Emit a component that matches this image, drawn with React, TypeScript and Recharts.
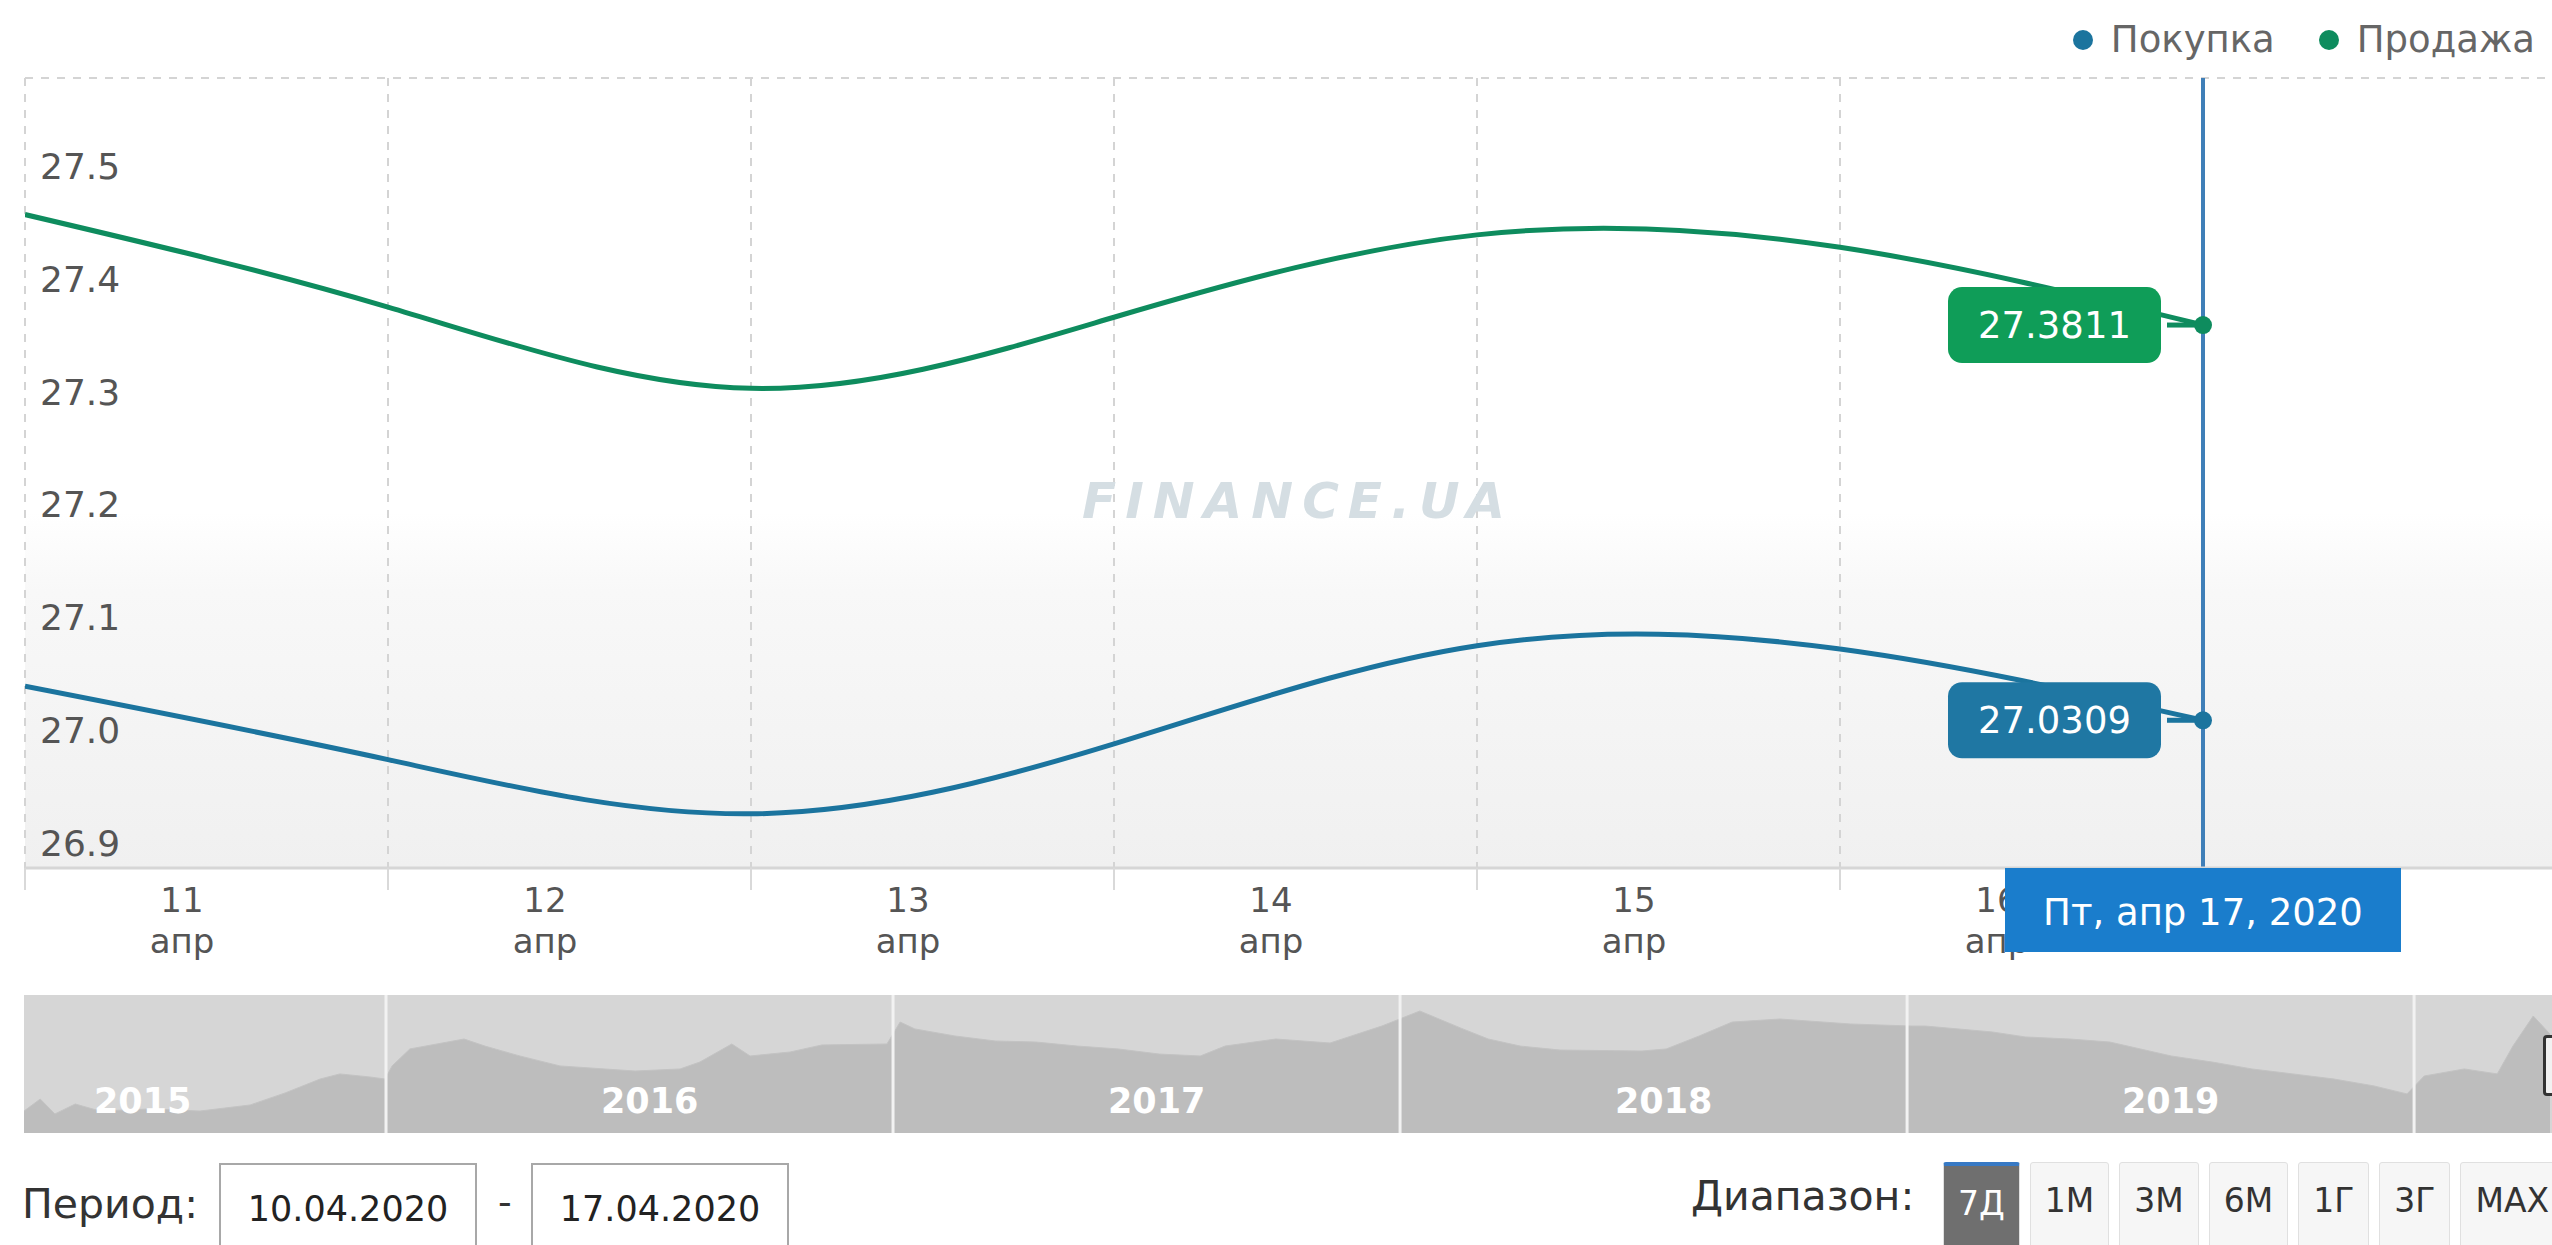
import React from 'react';
import {
  LineChart, Line, XAxis, YAxis, CartesianGrid, ReferenceLine,
  AreaChart, Area,
} from 'recharts';

// main chart: April 2020, days 11..17
const days = [11, 12, 13, 14, 15, 16, 17];
const buyValues = [27.061, 26.996, 26.948, 27.01, 27.097, 27.094, 27.0309];
const sellValues = [27.479, 27.397, 27.325, 27.388, 27.461, 27.45, 27.3811];
const dayTicks = [11, 12, 13, 14, 15, 16, 17, 18];
const labeledDays = [11, 12, 13, 14, 15, 16]; // 17 is under the date flag, 18 is off screen
const monthLabel = 'апр';
const yTicks = [26.9, 27.0, 27.1, 27.2, 27.3, 27.4, 27.5, 27.6];
const cursorDay = 17;
const cursorLabel = 'Пт, апр 17, 2020';

// navigator (history 2015-2020)
const navTimes = [
  2015.286, 2015.318, 2015.347, 2015.387, 2015.436, 2015.535, 2015.633, 2015.732, 2015.801, 2015.87, 2015.909, 2015.968, 2015.998,
  2016.012, 2016.047, 2016.154, 2016.195, 2016.264, 2016.343, 2016.491, 2016.58, 2016.619, 2016.682, 2016.718, 2016.797, 2016.86, 2016.988,
  2017.014, 2017.043, 2017.122, 2017.201, 2017.282, 2017.363, 2017.444, 2017.525, 2017.606, 2017.655, 2017.755, 2017.862, 2017.964,
  2018.039, 2018.124, 2018.174, 2018.237, 2018.316, 2018.477, 2018.525, 2018.59, 2018.655, 2018.749, 2018.888, 2019.008,
  2019.036, 2019.168, 2019.233, 2019.321, 2019.4, 2019.521, 2019.602, 2019.68, 2019.761, 2019.842, 2019.921, 2019.986,
  2020.02, 2020.099, 2020.164, 2020.195, 2020.235, 2020.268,
];
const navValues = [
  21.59, 22.46, 21.38, 22.1, 21.59, 21.74, 21.59, 22.03, 22.9, 23.91, 24.28, 24.06, 23.91,
  24.86, 26.09, 26.81, 26.3, 25.58, 24.86, 24.49, 24.64, 25.14, 26.45, 25.58, 25.87, 26.38, 26.45,
  28.04, 27.54, 27.03, 26.67, 26.59, 26.3, 26.09, 25.72, 25.58, 26.3, 26.81, 26.52, 27.75,
  28.84, 27.54, 26.81, 26.3, 26.01, 25.94, 26.09, 27.03, 28.04, 28.26, 27.9, 27.75,
  27.75, 27.32, 26.96, 26.81, 26.59, 25.58, 25.14, 24.64, 24.28, 23.91, 23.41, 22.83,
  24.13, 24.64, 24.28, 26.3, 28.48, 27.17,
];
const navYearStarts = [2016, 2017, 2018, 2019, 2020];
const navYearLabels = [2015, 2016, 2017, 2018, 2019];

const rangeButtons = ['7Д', '1М', '3М', '6М', '1Г', '3Г', 'МАХ'];
const periodFrom = '10.04.2020';
const periodTo = '17.04.2020';

const series = [
  { key: 'buy', name: 'Покупка', color: '#1b749e', box: '#1f77a3', values: buyValues },
  { key: 'sell', name: 'Продажа', color: '#0e8c5e', box: '#0f9d58', values: sellValues },
];

const data = days.map((d, i) => ({ day: d, buy: buyValues[i], sell: sellValues[i] }));
const navData = navTimes.map((t, i) => ({ t, v: navValues[i] }));

const FONT = "'DejaVu Sans', Verdana, sans-serif";
const PLOT_LEFT = 25;
const CHART_W = 2566;
const CHART_H = 980;
const MARGIN = { top: 78, right: 0, left: PLOT_LEFT - 1, bottom: 0 };
const X_DOMAIN = [11, 18];
const Y_DOMAIN = [26.9, 27.6];

const YTick = (props: any) => {
  const { y, payload } = props;
  if (payload.value > 27.55) return null;
  return (
    <text x={PLOT_LEFT + 15} y={y - 12} fill="#555" fontSize={36} fontFamily={FONT} textAnchor="start">
      {payload.value.toFixed(1)}
    </text>
  );
};

const XTick = (props: any) => {
  const { x, y, payload } = props;
  if (!labeledDays.includes(payload.value)) return null;
  return (
    <g fill="#555" fontSize={34} fontFamily={FONT} textAnchor="middle">
      <text x={x + 157} y={y + 20}>{payload.value}</text>
      <text x={x + 157} y={y + 61}>{monthLabel}</text>
    </g>
  );
};

const ValueBox = (props: any) => {
  const { x, y, value, values, color, box } = props;
  if (value !== values[values.length - 1]) return null;
  const w = 213;
  const h = 76;
  const right = x - 42;
  return (
    <g>
      <line x1={x - 36} y1={y} x2={x - 6} y2={y} stroke={color} strokeWidth={5} />
      <rect x={right - w} y={y - h / 2} width={w} height={h} rx={14} fill={box} />
      <text x={right - w / 2} y={y + 13} fill="#fff" fontSize={37} fontFamily={FONT} textAnchor="middle">
        {value.toFixed(4)}
      </text>
    </g>
  );
};

const DateFlag = (props: any) => {
  const vb = props.viewBox;
  if (!vb) return null;
  const bottom = vb.y + vb.height;
  return (
    <g>
      <rect x={vb.x - 198} y={bottom} width={396} height={84} fill="#1a7dcc" />
      <text x={vb.x} y={bottom + 57} fill="#fff" fontSize={37} fontFamily={FONT} textAnchor="middle">
        {cursorLabel}
      </text>
    </g>
  );
};

const YearLabel = (props: any) => {
  const vb = props.viewBox;
  if (!vb) return null;
  return (
    <text x={vb.x} y={vb.y + vb.height - 20} fill="#fff" fontSize={35} fontWeight="bold"
      fontFamily={FONT} textAnchor="middle">
      {props.year}
    </text>
  );
};

export default function App() {
  return (
    <div style={{
      position: 'fixed', left: 0, top: 0, width: 2552, height: 1245, overflow: 'hidden',
      background: '#fff', fontFamily: FONT,
    }}>
      {/* legend */}
      <div style={{
        position: 'absolute', top: 20, right: 17, height: 40, display: 'flex', alignItems: 'center',
        gap: 44, fontSize: 37, lineHeight: '40px', color: '#666',
      }}>
        {series.map((s) => (
          <div key={s.key} style={{ display: 'flex', alignItems: 'center' }}>
            <span style={{ width: 20, height: 20, borderRadius: 10, background: s.color, marginRight: 18 }} />
            <span>{s.name}</span>
          </div>
        ))}
      </div>

      {/* main chart */}
      <div style={{ position: 'absolute', left: 0, top: 0 }}>
        <LineChart width={CHART_W} height={CHART_H} data={data} margin={MARGIN}>
          <defs>
            <linearGradient id="plotBg" x1="0" y1="0" x2="0" y2="1">
              <stop offset="0" stopColor="#ffffff" />
              <stop offset="0.55" stopColor="#ffffff" />
              <stop offset="0.65" stopColor="#f8f8f8" />
              <stop offset="1" stopColor="#f0f0f0" />
            </linearGradient>
          </defs>
          <CartesianGrid stroke="#d4d4d4" strokeWidth={2} strokeDasharray="8 8" fill="url(#plotBg)" fillOpacity={1} />
          <XAxis
            dataKey="day" type="number" domain={X_DOMAIN} ticks={dayTicks} allowDataOverflow interval={0}
            height={112} tickSize={22} tickMargin={2}
            axisLine={{ stroke: '#d6d6d6', strokeWidth: 3 }}
            tickLine={{ stroke: '#d9d9d9', strokeWidth: 2 }}
            tick={<XTick />}
          />
          <YAxis
            type="number" domain={Y_DOMAIN} ticks={yTicks} allowDataOverflow width={1}
            axisLine={false} tickLine={false} tick={false}
          />
          <ReferenceLine x={cursorDay} stroke="#3f7fb8" strokeWidth={4} />
          {series.map((s) => (
            <Line
              key={s.key}
              dataKey={s.key}
              name={s.name}
              type="natural"
              stroke={s.color}
              strokeWidth={5}
              isAnimationActive={false}
              activeDot={false}
              dot={(p: any) =>
                p.index === s.values.length - 1 ? (
                  <circle key={`d-${s.key}-${p.index}`} cx={p.cx} cy={p.cy} r={9} fill={s.color} />
                ) : (
                  <g key={`d-${s.key}-${p.index}`} />
                )
              }
              label={<ValueBox values={s.values} color={s.color} box={s.box} />}
            />
          ))}
        </LineChart>
      </div>

      {/* overlay with same scales: y labels inside the plot and the date flag */}
      <div style={{ position: 'absolute', left: 0, top: 0, pointerEvents: 'none' }}>
        <LineChart width={CHART_W} height={CHART_H} data={data} margin={MARGIN}>
          <XAxis
            dataKey="day" type="number" domain={X_DOMAIN} ticks={dayTicks} allowDataOverflow
            height={112} axisLine={false} tickLine={false} tick={false}
          />
          <YAxis
            type="number" domain={Y_DOMAIN} ticks={yTicks} allowDataOverflow width={1}
            axisLine={false} tickLine={false} tick={<YTick />}
          />
          <ReferenceLine x={cursorDay} stroke="none" label={<DateFlag />} />
        </LineChart>
      </div>

      {/* watermark */}
      <div style={{
        position: 'absolute', left: 1082, top: 472, fontSize: 50, fontStyle: 'italic', fontWeight: 'bold',
        color: '#d5dee3', letterSpacing: 9, pointerEvents: 'none',
      }}>
        FINANCE.UA
      </div>

      {/* navigator */}
      <div style={{ position: 'absolute', left: 24, top: 995, width: 2528, height: 138, background: '#d6d6d6' }} />
      <div style={{ position: 'absolute', left: 0, top: 995 }}>
        <AreaChart width={2552} height={138} data={navData} margin={{ top: 0, right: 0, left: 24, bottom: 0 }}>
          <XAxis dataKey="t" type="number" domain={[2015.286, 2020.272]} allowDataOverflow hide />
          <YAxis type="number" domain={[20, 30]} allowDataOverflow hide />
          <Area dataKey="v" type="linear" fill="#bdbdbd" fillOpacity={1} stroke="#c3c3c3" strokeWidth={1}
            isAnimationActive={false} />
          {navYearStarts.map((y) => (
            <ReferenceLine key={y} x={y} stroke="#f2f2f2" strokeWidth={3} />
          ))}
          {navYearLabels.map((y) => (
            <ReferenceLine key={`l${y}`} x={y + 0.52} stroke="none" label={<YearLabel year={y} />} />
          ))}
        </AreaChart>
      </div>
      <div style={{
        position: 'absolute', left: 2543, top: 1035, width: 12, height: 55, border: '3px solid #333',
        borderRadius: 4, background: '#f2f2f2',
      }} />

      {/* period inputs */}
      <div style={{ position: 'absolute', left: 22, top: 1180, fontSize: 41, color: '#333' }}>Период:</div>
      <div style={{
        position: 'absolute', left: 219, top: 1163, width: 258, height: 100, border: '2px solid #a8a8a8',
        textAlign: 'center', fontSize: 35, color: '#222', paddingTop: 24, boxSizing: 'border-box',
      }}>{periodFrom}</div>
      <div style={{ position: 'absolute', left: 498, top: 1180, fontSize: 38, color: '#333' }}>-</div>
      <div style={{
        position: 'absolute', left: 531, top: 1163, width: 258, height: 100, border: '2px solid #a8a8a8',
        textAlign: 'center', fontSize: 35, color: '#222', paddingTop: 24, boxSizing: 'border-box',
      }}>{periodTo}</div>

      {/* range buttons */}
      <div style={{ position: 'absolute', left: 1691, top: 1172, fontSize: 41, color: '#333' }}>Диапазон:</div>
      <div style={{ position: 'absolute', left: 1943, top: 1162, display: 'flex', gap: 10 }}>
        {rangeButtons.map((b, i) => (
          <div key={b} style={{
            height: 100, padding: '18px 14px 0', boxSizing: 'border-box', fontSize: 33,
            background: i === 0 ? '#6f6f6f' : '#f6f6f6', color: i === 0 ? '#fff' : '#333',
            border: '1px solid #e0e0e0', borderTop: i === 0 ? '4px solid #3779c4' : '1px solid #e0e0e0',
            borderRadius: 3,
          }}>{b}</div>
        ))}
      </div>
    </div>
  );
}
